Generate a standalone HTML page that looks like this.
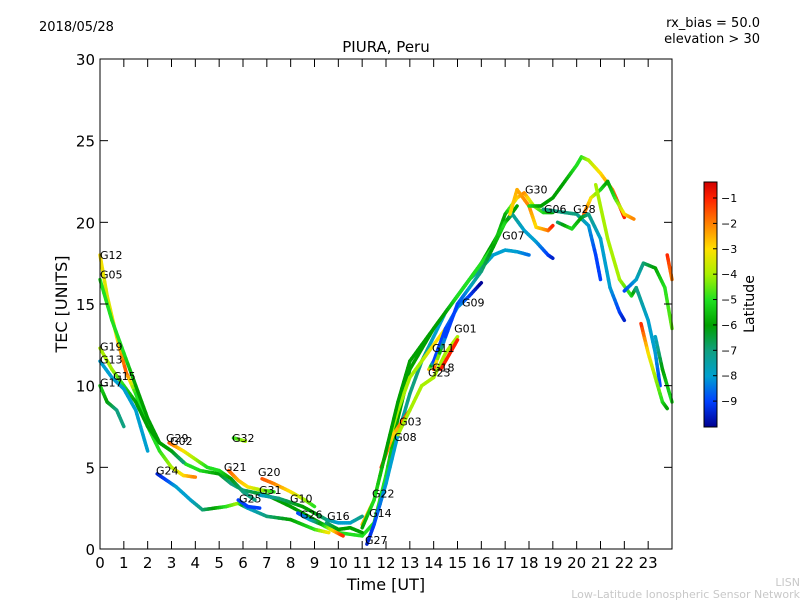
<!DOCTYPE html>
<html><head><meta charset="utf-8"><style>
body{margin:0;background:#fff;}
svg{display:block;font-family:"DejaVu Sans","Liberation Sans",sans-serif;}
</style></head><body>
<svg id="chart" width="800" height="600" viewBox="0 0 800 600">
<defs>
<linearGradient id="cbgrad" x1="0" y1="1" x2="0" y2="0">
<stop offset="0" stop-color="#000090"/>
<stop offset="0.104" stop-color="#0040ff"/>
<stop offset="0.207" stop-color="#00a0d0"/>
<stop offset="0.311" stop-color="#10a080"/>
<stop offset="0.415" stop-color="#00a000"/>
<stop offset="0.518" stop-color="#20e020"/>
<stop offset="0.622" stop-color="#a8f000"/>
<stop offset="0.726" stop-color="#ffe000"/>
<stop offset="0.83" stop-color="#ff8000"/>
<stop offset="0.934" stop-color="#ff2000"/>
<stop offset="1" stop-color="#d00000"/>
</linearGradient>
</defs>
<text x="39" y="31" font-size="13">2018/05/28</text>
<text x="760" y="27" font-size="13" text-anchor="end">rx_bias = 50.0</text>
<text x="760" y="43" font-size="13" text-anchor="end">elevation &gt; 30</text>
<text x="386" y="52" font-size="15" text-anchor="middle">PIURA, Peru</text>
<g id="tracks"></g>
<g id="labels"></g>
<rect x="100" y="59" width="572" height="490" fill="none" stroke="#000" stroke-width="1"/>
<g id="axes"></g>
<text x="386" y="590" font-size="16" text-anchor="middle">Time [UT]</text>
<text transform="translate(67,304) rotate(-90)" font-size="16" text-anchor="middle">TEC [UNITS]</text>
<rect x="704" y="182" width="13" height="245" fill="url(#cbgrad)" stroke="#000" stroke-width="1"/>
<g id="cbticks"></g>
<text transform="translate(754,304) rotate(-90)" font-size="14" text-anchor="middle">Latitude</text>
<text x="800" y="586" font-size="11" fill="#c8c8c8" text-anchor="end">LISN</text>
<text x="800" y="598" font-size="11" fill="#c8c8c8" text-anchor="end">Low-Latitude Ionospheric Sensor Network</text>
</svg>
<script>
const xTicks=[0,1,2,3,4,5,6,7,8,9,10,11,12,13,14,15,16,17,18,19,20,21,22,23];
const yTicks=[0,5,10,15,20,25,30];
const cbTicks=[-1,-2,-3,-4,-5,-6,-7,-8,-9];
const trackG12=[[0,18,-3],[0.3,15.5,-3.5],[0.7,13,-3],[1.1,10.8,-1.5],[1.5,9.5,-5],[2,7.5,-5],[2.5,6,-5],[3,5,-4],[3.5,4.5,-3],[4,4.4,-2]];
const trackG05=[[0,16.5,-5],[0.5,14,-5],[1,12,-5],[1.5,10,-6],[2,8,-6],[2.5,6.5,-6],[3,6,-5],[3.6,5.2,-5],[4.2,4.8,-5],[5,4.6,-6],[5.5,4,-7],[6,3.6,-7],[7,3.3,-6],[8,2.6,-6],[9,1.8,-6],[10,1,-5],[11,0.8,-5],[11.5,1.6,-5],[12,4.5,-5],[12.5,8,-6],[13,11,-6],[14,13.5,-6],[15,15.5,-6],[16,17.5,-6],[17,20,-6],[17.5,21,-6]];
const trackG19=[[0,12.3,-4],[0.5,11,-4],[1,10,-5],[1.5,9,-6],[2,7.5,-6],[2.5,6.5,-6],[3,6,-6],[3.5,5.3,-7]];
const trackG13=[[0,11.5,-8],[0.5,10.5,-8],[1,9.8,-8],[1.5,8.5,-8],[1.8,7,-8],[2,6,-8]];
const trackG17=[[0,10,-5],[0.3,9,-6],[0.7,8.5,-7],[1,7.5,-7]];
const trackG29=[[2.9,6.5,-1.5],[3.5,6,-3],[4,5.5,-4],[4.5,5,-5],[5,4.8,-5],[5.5,4.3,-6],[6,3.5,-7],[6.5,3,-7]];
const trackG24=[[2.4,4.6,-9.5],[2.8,4.2,-9],[3.2,3.8,-8],[3.8,3,-8],[4.3,2.4,-7],[4.8,2.5,-6],[5.3,2.6,-5],[5.8,2.8,-4],[6.2,2.5,-8],[7,2,-7],[8,1.8,-6],[9,1.2,-5],[9.6,1,-3]];
const trackG32=[[5.6,6.8,-5],[6.1,6.6,-4]];
const trackG21=[[5.4,4.8,-1.5],[5.8,4.2,-2.5],[6.2,3.8,-3],[6.8,3.6,-4],[7.3,3.5,-5]];
const trackG20=[[6.8,4.3,-1.5],[7.3,4,-2],[8,3.5,-3],[8.6,3,-4],[9,2.6,-5]];
const trackG31=[[6.7,3.3,-8],[7.5,3.1,-7],[8.5,2.6,-6],[9,2.2,-6],[9.5,1.8,-7],[10,1.6,-8],[10.5,1.6,-8],[11,2,-7]];
const trackG25=[[5.8,3,-9],[6.2,2.6,-9],[6.7,2.5,-9]];
const trackG26=[[8.3,2.2,-9],[8.8,1.8,-8],[9.3,1.5,-6],[9.8,1.1,-3],[10.2,0.8,-1]];
const trackG16=[[9.5,1.6,-7],[10,1.2,-6],[10.5,1.3,-6],[11,1,-6]];
const trackG27=[[11.2,0.3,-9.5],[11.5,1.5,-9],[12,4,-8],[12.5,7,-8],[13,9.5,-7],[13.5,11.5,-7],[14,13,-8],[14.5,14.5,-8],[15,15.5,-8],[15.5,16.5,-8],[16,17.2,-7],[16.5,18,-8],[17,18.3,-8],[17.5,18.2,-8],[18,18,-8.5]];
const trackG22=[[11,1.5,-2.5],[11.5,3,-3],[12,6,-4],[12.5,8.5,-4],[13,10.5,-4],[13.5,11.5,-4],[14,12.5,-3],[14.5,13.5,-3]];
const trackG08=[[11.8,5,-1],[12.3,7,-3],[13,8.5,-1]];
const trackG03=[[12.5,7,-4],[13,8.5,-4],[13.5,10,-4],[14,10.5,-4],[14.5,12,-4],[15,13,-4]];
const trackG11=[[13.8,11,-2],[14,11.5,-9],[14.5,13.5,-9],[15,14.8,-8],[15.5,15.5,-9],[16,16.3,-10]];
const trackG18=[[14.3,11,-1],[15,12.8,-1]];
const trackG09=[[11,1.3,-6],[11.5,3,-5],[12,6,-6],[12.5,9,-6],[13,11.5,-6],[13.5,12.5,-6],[14,13.5,-6],[14.5,14.5,-6],[15,15.5,-5],[15.5,16.5,-5],[16,17.5,-5],[16.5,18.5,-5],[17,20.5,-6],[17.5,21.5,-3],[17.8,21.8,-2],[18.2,21,-4],[18.6,20.6,-5],[19,20.6,-6]];
const trackG07=[[14,11,-1],[14.5,13,-9],[15,15,-9],[15.5,16,-8],[16,17,-7],[16.5,18.5,-6],[17,20,-5],[17.3,20.5,-7],[17.8,19.5,-8],[18.3,18.8,-8],[18.8,18,-9],[19,17.8,-9.5]];
const trackG30=[[17.2,20.5,-3],[17.5,22,-2.5],[18,21,-2],[18.3,19.7,-3],[18.8,19.5,-2],[19,19.8,-1]];
const trackPeak=[[18,21,-5],[18.5,21,-6],[19,21.5,-6],[19.5,22.5,-6],[20,23.5,-5],[20.2,24,-5],[20.5,23.8,-4],[21,23,-3],[21.5,22,-2],[21.8,21,-1],[22,20.3,-1]];
const trackG28=[[20.3,20.5,-1.5],[20.6,21.5,-3],[21,22,-5],[21.3,22.5,-6],[21.6,21.5,-5],[22,20.5,-3],[22.4,20.2,-2]];
const trackG06=[[18.6,20.8,-7],[19.5,20.6,-7],[20,20.5,-7],[20.5,19.8,-8],[20.8,18,-9],[21,16.5,-9]];
const trackDesc=[[19.2,20,-7],[19.8,19.6,-5],[20.2,20.3,-6],[20.5,20.5,-7],[21,19,-8],[21.4,16,-8],[21.8,14.5,-9],[22,14,-9.5]];
const trackLate=[[20.8,22.3,-4],[21.3,19,-4],[21.8,16.5,-4],[22.3,15.5,-5],[22.5,16,-7],[23,14,-8],[23.3,12,-8],[23.5,10,-9]];
const trackTeal=[[22,15.8,-9],[22.5,16.5,-8],[22.8,17.5,-7],[23.3,17.2,-6],[23.7,16,-5],[24,13.5,-4.5]];
const trackRed1=[[22.7,13.8,-1],[23,12,-3],[23.3,10.5,-4],[23.6,9,-5],[23.8,8.6,-6]];
const trackRed2=[[23.8,18,-1],[24,16.5,-2]];
const trackTail=[[23.3,13,-8],[23.6,11,-6],[24,9,-5]];
const tracks=[trackG12,trackG05,trackG19,trackG13,trackG17,trackG29,trackG24,trackG32,trackG21,trackG20,trackG31,trackG25,trackG26,trackG16,trackG27,trackG22,trackG08,trackG03,trackG11,trackG18,trackG09,trackG07,trackG30,trackPeak,trackG28,trackG06,trackDesc,trackLate,trackTeal,trackRed1,trackRed2,trackTail];
const labelNames=["G12","G05","G19","G13","G15","G17","G29","G02","G24","G32","G21","G20","G31","G25","G10","G26","G16","G22","G14","G27","G08","G03","G23","G18","G11","G01","G09","G07","G30","G06","G28"];
const labelT=[0,0,0,0,0.55,0,2.77,2.94,2.35,5.54,5.2,6.63,6.67,5.83,7.97,8.39,9.53,11.41,11.29,11.12,12.34,12.55,13.76,13.93,13.93,14.86,15.19,16.87,17.83,18.63,19.85];
const labelTec=[17.7,16.5,12.1,11.3,10.3,9.9,6.5,6.3,4.5,6.5,4.7,4.4,3.3,2.8,2.8,1.8,1.7,3.1,1.9,0.25,6.55,7.5,10.5,10.8,12.0,13.2,14.8,18.9,21.7,20.5,20.5];

const NS="http://www.w3.org/2000/svg";
const X0=100,X1=672,Y0=549,Y1=59;
const xs=t=>X0+t/24*(X1-X0);
const ys=v=>Y0-v/30*(Y0-Y1);
const cbY=l=>427-(l+10.02)/(9.65)*245;
const stops=[[-10,[0,0,144]],[-9,[0,64,255]],[-8,[0,160,208]],[-7,[16,160,128]],[-6,[0,160,0]],[-5,[32,224,32]],[-4,[168,240,0]],[-3,[255,224,0]],[-2,[255,128,0]],[-1,[255,32,0]],[-0.37,[208,0,0]]];
function col(l){
  if(l<=stops[0][0])return `rgb(${stops[0][1]})`;
  for(let i=1;i<stops.length;i++){
    if(l<=stops[i][0]){const a=stops[i-1],b=stops[i];const f=(l-a[0])/(b[0]-a[0]);
      const c=a[1].map((v,k)=>Math.round(v+(b[1][k]-v)*f));return `rgb(${c})`;}
  }
  return `rgb(${stops[stops.length-1][1]})`;
}
const tg=document.getElementById('tracks');
tracks.forEach((tr,ti)=>{
  const g=document.createElementNS(NS,'g');
  
  
  for(let i=0;i<tr.length-1;i++){
    const a=tr[i],b=tr[i+1];const n=6;
    for(let k=0;k<n;k++){
      const f0=k/n,f1=(k+1)/n;
      const ln=document.createElementNS(NS,'line');
      ln.setAttribute('x1',xs(a[0]+(b[0]-a[0])*f0));ln.setAttribute('y1',ys(a[1]+(b[1]-a[1])*f0));
      ln.setAttribute('x2',xs(a[0]+(b[0]-a[0])*f1));ln.setAttribute('y2',ys(a[1]+(b[1]-a[1])*f1));
      ln.setAttribute('stroke',col(a[2]+(b[2]-a[2])*(f0+f1)/2));
      ln.setAttribute('stroke-width','3.5');ln.setAttribute('stroke-linecap','round');
      g.appendChild(ln);
    }
  }
  tg.appendChild(g);
});
const lg=document.getElementById('labels');
labelNames.forEach((nm,i)=>{
  const t=document.createElementNS(NS,'text');
  
  
  t.setAttribute('x',xs(labelT[i]));t.setAttribute('y',ys(labelTec[i])-1);
  t.setAttribute('font-size','11');t.textContent=nm;lg.appendChild(t);
});
const ax=document.getElementById('axes');
xTicks.forEach(v=>{
  const x=xs(v);
  ax.insertAdjacentHTML('beforeend',`<line x1="${x}" y1="549" x2="${x}" y2="541" stroke="#000"/><line x1="${x}" y1="59" x2="${x}" y2="67" stroke="#000"/>`);
  const t=document.createElementNS(NS,'text');
  
  
  t.setAttribute('x',x);t.setAttribute('y',568);t.setAttribute('font-size','15');t.setAttribute('text-anchor','middle');t.textContent=v;ax.appendChild(t);
});
yTicks.forEach(v=>{
  const y=ys(v);
  ax.insertAdjacentHTML('beforeend',`<line x1="100" y1="${y}" x2="108" y2="${y}" stroke="#000"/><line x1="672" y1="${y}" x2="664" y2="${y}" stroke="#000"/>`);
  const t=document.createElementNS(NS,'text');
  
  
  t.setAttribute('x',95);t.setAttribute('y',y+6);t.setAttribute('font-size','15');t.setAttribute('text-anchor','end');t.textContent=v;ax.appendChild(t);
});
const cg=document.getElementById('cbticks');
cbTicks.forEach(v=>{
  const y=cbY(v);
  cg.insertAdjacentHTML('beforeend',`<line x1="713" y1="${y}" x2="717" y2="${y}" stroke="#000"/>`);
  const t=document.createElementNS(NS,'text');
  
  
  t.setAttribute('x',721);t.setAttribute('y',y+4);t.setAttribute('font-size','11');t.textContent='\u2212'+Math.abs(v);cg.appendChild(t);
});
</script>
</body></html>
